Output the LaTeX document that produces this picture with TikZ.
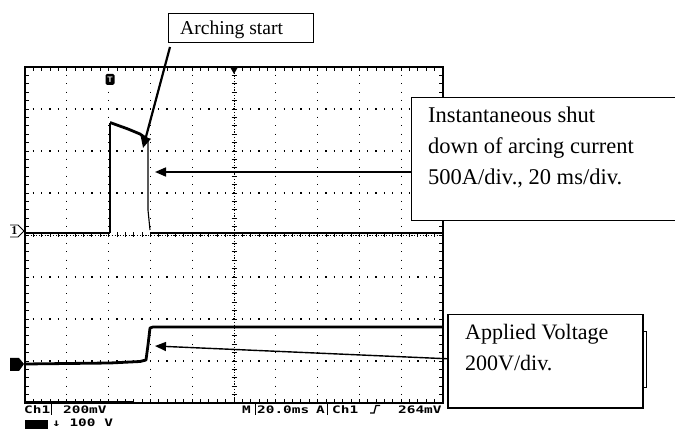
\documentclass[tikz,border=0pt]{standalone}
\usepackage{fontspec}
\setmainfont{Liberation Serif}
\newfontfamily\scopefont[FakeStretch=1.4]{DejaVu Sans Mono}
\usetikzlibrary{arrows.meta}
\begin{document}
\begin{tikzpicture}[x=1pt,y=-1pt,
  callout/.style={draw=black, line width=1.3pt, fill=white, inner sep=0pt, anchor=north west},
  gridv/.style={line width=1.3pt, dash pattern=on 1.3pt off 7.1pt, dash phase=0.65pt},
  gridh/.style={line width=1.3pt, dash pattern=on 1.3pt off 7.06pt, dash phase=0.65pt},
  tick/.style={line width=0.9pt},
  thicktrace/.style={line width=2.8pt, line join=round},
  thintrace/.style={line width=1.1pt},
  scopetxt/.style={font=\scopefont\bfseries\fontsize{10.3}{10.3}\selectfont, inner sep=0pt, anchor=base west},
  bigtxt/.style={font=\fontsize{22.5}{31}\selectfont, inner sep=0pt, anchor=base west},
  midtxt/.style={font=\fontsize{22}{31}\selectfont, inner sep=0pt, anchor=base west},
  arrowline/.style={line width=1.6pt, -{Triangle[length=11pt,width=9pt]}}
]
\useasboundingbox (0,0) rectangle (675,430);
% ---- graticule ----
\foreach \i in {1,2,3,4,6,7,8,9} \draw[gridv] ({25+41.8*\i},67) -- ({25+41.8*\i},403);
\foreach \j in {1,2,3,5,6,7} \draw[gridh] (25,{67+42*\j}) -- (443,{67+42*\j});
% centre lines with ticks
\draw[line width=0.9pt, dash pattern=on 1.2pt off 1.6pt] (234,67) -- (234,403);
\draw[line width=0.9pt, dash pattern=on 1.2pt off 1.6pt] (25,235) -- (443,235);
\foreach \k in {0,...,40} \draw[tick] (231.5,{67+8.4*\k}) -- (236.5,{67+8.4*\k});
\foreach \k in {0,...,50} \draw[tick] ({25+8.36*\k},232.5) -- ({25+8.36*\k},237.5);
% frame ticks
\foreach \k in {0,...,50} {
  \draw[tick] ({25+8.36*\k},67) -- ({25+8.36*\k},71);
  \draw[tick] ({25+8.36*\k},403) -- ({25+8.36*\k},399);
}
\foreach \k in {0,...,40} {
  \draw[tick] (25,{67+8.4*\k}) -- (29,{67+8.4*\k});
  \draw[tick] (443,{67+8.4*\k}) -- (439,{67+8.4*\k});
}
\draw[line width=2.2pt] (25,67) rectangle (443,403);
\draw[line width=3.4pt] (25,402.5) -- (133,402.5);
% ---- traces ----
\draw[thicktrace] (25,233) -- (110,233);
\draw[thintrace] (110,233) -- (110,123);
\draw[thicktrace] (110,122.5) -- (128,129) -- (140,134) -- (147,139);
\draw[thintrace] (148,139) -- (148,210) -- (150,230);
\draw[thicktrace] (150,233) -- (443,233);
\draw[thicktrace] (25,364) -- (110,363) -- (140,361.5) -- (146,360) -- (148,345) -- (150,328) -- (153,327) -- (443,327);
% ---- markers ----
\fill (230,67) -- (238,67) -- (234,74) -- cycle;
\node[fill=black, text=white, font=\sffamily\bfseries\fontsize{8}{8}\selectfont, inner sep=1pt, rounded corners=1.5pt, minimum width=9pt, minimum height=11pt] (tmark) at (110,79.5) {T};
\node[font=\bfseries\fontsize{12}{12}\selectfont, inner sep=0pt] (chonemark) at (14.5,231) {1};
\draw[line width=0.9pt] (10,225) -- (18,225) -- (24,231) -- (18,237) -- (10,237);
\fill (10,358) -- (19,358) -- (24,364) -- (19,371) -- (10,371) -- cycle;
% ---- scope readout ----
\node[scopetxt] (rch) at (24,413.5) {Ch1};
\draw[line width=1pt] (51,404) -- (51,415);
\node[scopetxt] (rmv) at (63,413.5) {200mV};
\node[scopetxt] (rm) at (242,413.5) {M};
\draw[line width=1pt] (255,404) -- (255,415);
\node[scopetxt] (rms) at (257,413.5) {20.0ms};
\node[scopetxt] (ra) at (316,413.5) {A};
\draw[line width=1pt] (327,404) -- (327,415);
\node[scopetxt] (rch2) at (332,413.5) {Ch1};
\draw[line width=1.3pt] (370,413) -- (374,413) -- (376,405.5) -- (380,405.5);
\node[scopetxt] (rtrig) at (398,413.5) {264mV};
\fill (25,419.5) rectangle (48,428.5);
\node[scopetxt] (rvolt) at (52,426.5) {↓ 100 V};
% ---- callouts ----
\node[callout, line width=1pt, minimum width=145pt, minimum height=29pt] (arch) at (168,13) {};
\node[font=\fontsize{19.6}{24}\selectfont, inner sep=0pt, anchor=base west] (archtext) at (180,34.5) {Arching start};
\node[callout, minimum width=272pt, minimum height=123pt] (inst) at (411,97) {};
\node[bigtxt] (insta) at (428,123) {Instantaneous shut};
\node[bigtxt] (instb) at (428,154) {down of arcing current};
\node[bigtxt] (instc) at (428,185) {500A/div., 20 ms/div.};
\draw[line width=0.8pt, fill=white] (630,331) rectangle (646,387);
\node[callout, line width=1.5pt, minimum width=195pt, minimum height=93pt] (volt) at (447,314) {};
\node[midtxt] (volta) at (465,339.5) {Applied Voltage};
\node[midtxt] (voltb) at (465,370.5) {200V/div.};
% ---- arrows ----
\coordinate (archfoot) at (170,47);
\coordinate (archtip) at (143,148);
\coordinate (cuttip) at (155,172);
\coordinate (steptip) at (155,346);
\draw[line width=2.2pt, -{Triangle[length=11pt,width=10pt]}] (archfoot) -- (archtip);
\draw[arrowline] (inst.west |- cuttip) -- (cuttip);
\draw[arrowline, line width=1.4pt] ([yshift=2.5pt]volt.west) -- (steptip);
\end{tikzpicture}
\end{document}
